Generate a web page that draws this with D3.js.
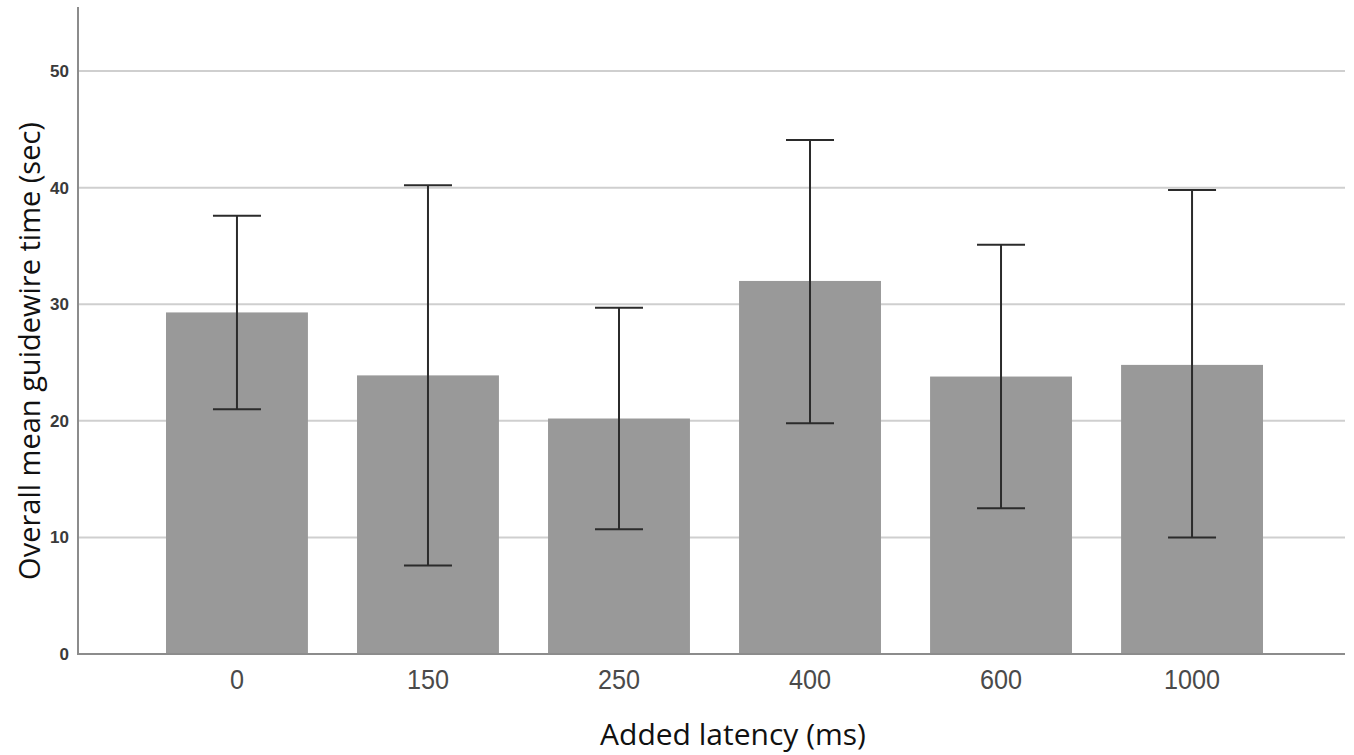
<!DOCTYPE html>
<html lang="en">
<head>
    <meta charset="UTF-8">
    <title>Guidewire time by latency</title>
    <script src="https://d3js.org/d3.v7.min.js"></script>
    <style>
        body, html {
            margin: 0;
            background-color: #fff;
        }
        svg { display: block; }
    </style>
</head>
<body>
<svg id="chart" width="1354" height="755"></svg>

<script>
    // values
    const latencies = ['0', '150', '250', '400', '600', '1000'];
    const means = [29.3, 23.9, 20.2, 32.0, 23.8, 24.8];
    const upper = [37.6, 40.2, 29.7, 44.1, 35.1, 39.8];
    const lower = [21.0, 7.6, 10.7, 19.8, 12.5, 10.0];
    const yTicks = [0, 10, 20, 30, 40, 50];

    const svg = d3.select('#chart');
    const plot = { left: 78, right: 1345, top: 7, bottom: 654 };

    const x = d3.scaleBand()
        .domain(latencies)
        .range([166, 1263])
        .paddingInner(0.257)
        .paddingOuter(0);

    const y = d3.scaleLinear().domain([0, 55.5]).range([plot.bottom, plot.top]);

    // gridlines
    svg.append('g')
        .selectAll('line')
        .data(yTicks.slice(1))
        .join('line')
        .attr('x1', plot.left).attr('x2', plot.right)
        .attr('y1', d => y(d)).attr('y2', d => y(d))
        .attr('stroke', '#cfcfcf')
        .attr('stroke-width', 2);

    // bars
    svg.append('g')
        .selectAll('rect')
        .data(latencies)
        .join('rect')
        .attr('x', d => x(d))
        .attr('width', x.bandwidth())
        .attr('y', (d, i) => y(means[i]))
        .attr('height', (d, i) => plot.bottom - y(means[i]))
        .attr('fill', '#999999');

    // error bars
    const capW = 24;
    const eb = svg.append('g').attr('stroke', '#2b2b2b').attr('stroke-width', 2);
    latencies.forEach((d, i) => {
        const cx = x(d) + x.bandwidth() / 2;
        eb.append('line').attr('x1', cx).attr('x2', cx)
            .attr('y1', y(upper[i])).attr('y2', y(lower[i]));
        eb.append('line').attr('x1', cx - capW).attr('x2', cx + capW)
            .attr('y1', y(upper[i])).attr('y2', y(upper[i]));
        eb.append('line').attr('x1', cx - capW).attr('x2', cx + capW)
            .attr('y1', y(lower[i])).attr('y2', y(lower[i]));
    });

    // axes
    svg.append('line')
        .attr('x1', plot.left).attr('x2', plot.left)
        .attr('y1', plot.top).attr('y2', plot.bottom + 1)
        .attr('stroke', '#8c8c8c').attr('stroke-width', 2);
    svg.append('line')
        .attr('x1', plot.left - 1).attr('x2', plot.right)
        .attr('y1', plot.bottom).attr('y2', plot.bottom)
        .attr('stroke', '#8c8c8c').attr('stroke-width', 2);

    const yAxis = svg.append('g')
        .attr('transform', `translate(${plot.left},0)`)
        .call(d3.axisLeft(y).tickValues(yTicks).tickSize(0).tickPadding(9));
    yAxis.select('.domain').remove();
    yAxis.selectAll('text')
        .style('font-family', "'Liberation Sans', Arial, sans-serif")
        .style('font-size', '17px')
        .style('font-weight', 'bold')
        .attr('fill', '#3a3a3a');

    const xAxis = svg.append('g')
        .attr('transform', `translate(0,${plot.bottom})`)
        .call(d3.axisBottom(x).tickSize(0).tickPadding(15));
    xAxis.select('.domain').remove();
    // tick labels in the picture are a little condensed
    xAxis.selectAll('text')
        .style('font-family', "'Liberation Sans', Arial, sans-serif")
        .style('font-size', '28px')
        .attr('transform', 'scale(0.9,1)')
        .attr('fill', '#4a4a4a');

    // titles
    svg.append('text')
        .attr('x', 733)
        .attr('y', 745)
        .attr('text-anchor', 'middle')
        .style('font-family', "'Open Sans', 'Noto Sans', sans-serif")
        .style('font-size', '30px')
        .attr('fill', '#111')
        .text('Added latency (ms)');

    svg.append('text')
        .attr('transform', 'translate(40,351) rotate(-90)')
        .attr('text-anchor', 'middle')
        .style('font-family', "'Open Sans', 'Noto Sans', sans-serif")
        .style('font-size', '29px')
        .attr('fill', '#111')
        .text('Overall mean guidewire time (sec)');
</script>
</body>
</html>
